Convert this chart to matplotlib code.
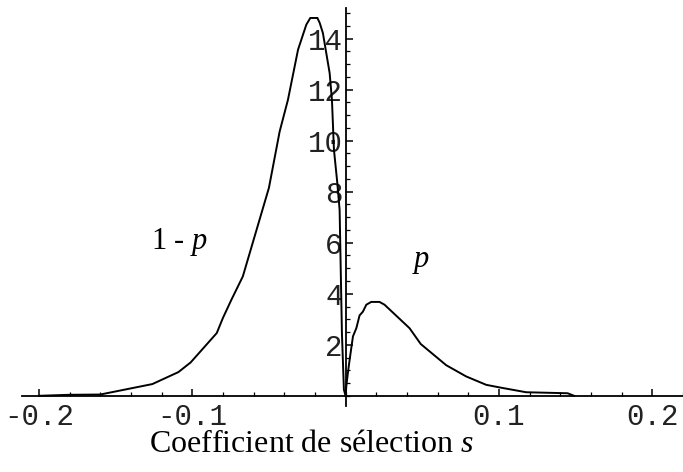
import numpy as np
import matplotlib.pyplot as plt
from matplotlib.ticker import FixedLocator, MultipleLocator

plt.rcParams["mathtext.fontset"] = "custom"
plt.rcParams["mathtext.rm"] = "Liberation Serif"
plt.rcParams["mathtext.it"] = "Liberation Serif:italic"

# Density of the selection coefficient, split by allele frequency
s_left = [-0.200, -0.180, -0.160, -0.126, -0.109, -0.101, -0.084, -0.080, -0.0745,
          -0.067, -0.050, -0.043, -0.0376, -0.031, -0.0267, -0.0256, -0.023,
          -0.0184, -0.0169, -0.0148, -0.0104, -0.0089, -0.0076, -0.0054, -0.0039,
          -0.0024, -0.0011, 0.0]
f_left = [0.0, 0.04, 0.05, 0.46, 0.93, 1.31, 2.46, 3.05, 3.76,
          4.68, 8.15, 10.36, 11.6, 13.57, 14.35, 14.55, 14.81,
          14.81, 14.62, 14.22, 12.65, 11.6, 9.65, 8.34, 7.29,
          2.47, 0.24, 0.0]

s_right = [0.0, 0.0005, 0.0015, 0.0026, 0.0048, 0.007, 0.0091, 0.0113, 0.0135,
           0.0167, 0.0221, 0.0254, 0.0417, 0.049, 0.0656, 0.0786, 0.0917, 0.1003,
           0.1177, 0.1448, 0.149]
f_right = [0.0, 0.4, 0.9, 1.4, 2.33, 2.65, 3.15, 3.3, 3.57,
           3.68, 3.68, 3.57, 2.65, 2.03, 1.2, 0.76, 0.43, 0.33,
           0.14, 0.1, 0.0]

x_ticks = [-0.2, -0.1, 0.1, 0.2]
x_labels = ["-0.2", "-0.1", "0.1", "0.2"]
y_ticks = [2, 4, 6, 8, 10, 12, 14]

fig = plt.figure(figsize=(6.83, 4.72), dpi=100)
ax = fig.add_axes([0.0322, 0.1398, 0.9678, 0.8432])

ax.plot(s_left, f_left, color="black", linewidth=1.4, solid_joinstyle="miter")
ax.plot(s_right, f_right, color="black", linewidth=1.4, solid_joinstyle="miter")

ax.set_xlim(-0.211, 0.22)
ax.set_ylim(-0.4, 15.2)

# axes crossing at the origin
for side in ("top", "right"):
    ax.spines[side].set_visible(False)
ax.spines["left"].set_position(("data", 0))
ax.spines["bottom"].set_position(("data", 0))
ax.spines["left"].set_linewidth(1.3)
ax.spines["bottom"].set_linewidth(1.3)

ax.xaxis.set_major_locator(FixedLocator(x_ticks))
ax.xaxis.set_minor_locator(MultipleLocator(0.02))
ax.yaxis.set_major_locator(FixedLocator(y_ticks))
ax.yaxis.set_minor_locator(MultipleLocator(0.5))
ax.set_xticklabels(x_labels)
ax.set_yticklabels([str(v) for v in y_ticks])

ax.tick_params(which="major", direction="in", length=5, width=1.1, labelsize=21)
ax.tick_params(axis="x", which="major", pad=5)
ax.tick_params(axis="y", which="major", pad=2)
ax.tick_params(which="minor", direction="in", length=3, width=0.9)
for lab in ax.get_xticklabels() + ax.get_yticklabels():
    lab.set_family("Liberation Mono")
    lab.set_color("#222222")

ax.text(-0.108, 6.04, "1 - $p$", fontsize=22, family="Liberation Serif",
        ha="center", va="center")
ax.text(0.0495, 5.25, "$p$", fontsize=22, family="Liberation Serif",
        ha="center", va="center")

fig.text(0.457, 0.058, "Coefficient de sélection $s$", fontsize=23,
         family="Liberation Serif", ha="center", va="center")

fig.savefig("out.png", dpi=100)
